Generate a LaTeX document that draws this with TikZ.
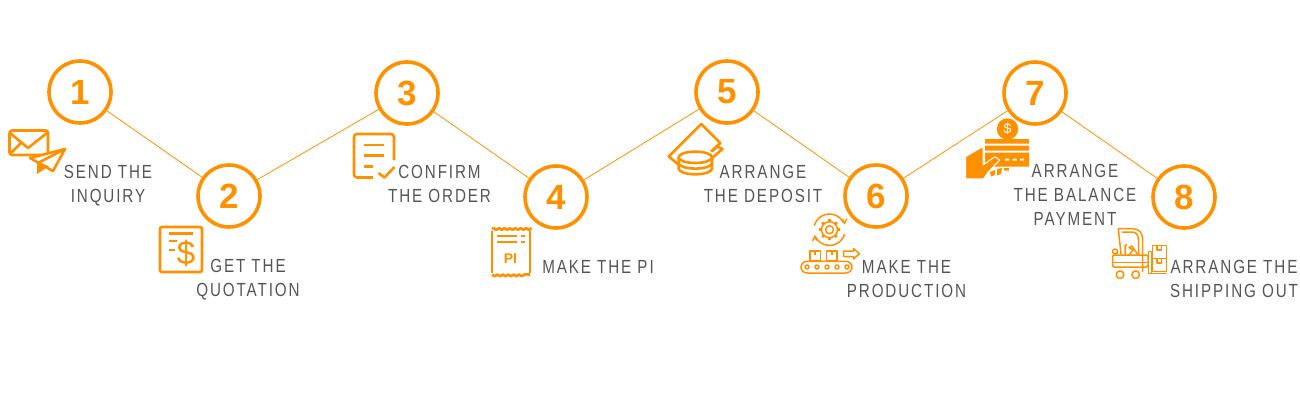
\documentclass[tikz,border=0pt]{standalone}
\usepackage{fontspec}
\setmainfont{Liberation Sans}[FakeStretch=.8,LetterSpace=10]
\newfontfamily\numfont{Liberation Sans}
\usetikzlibrary{decorations.pathmorphing}
\definecolor{stepcolor}{HTML}{FF9100}
\definecolor{labelcolor}{HTML}{555555}

\begin{document}
\begin{tikzpicture}[x=1pt,y=-1pt,
		stepnum/.style={circle,draw=stepcolor,line width=3.6pt,minimum size=62pt,inner sep=0pt,text=stepcolor,font=\numfont\bfseries\fontsize{35}{35}\selectfont},
		steplabel/.style={align=center,text=labelcolor,inner sep=0pt,font=\fontsize{19}{24}\selectfont},
		link/.style={draw=stepcolor,line width=.8pt},
		iconline/.style={draw=stepcolor,line width=2.6pt,line join=round},
		iconthin/.style={draw=stepcolor,line width=1.5pt,line join=round},
		icontext/.style={inner sep=0pt,text=stepcolor,font=\numfont}]
	\useasboundingbox (0,0) rectangle (1300,400);
	% Numbered steps
	\node[stepnum] (n1) at (80,92) {1};
	\node[stepnum] (n2) at (229,196) {2};
	\node[stepnum] (n3) at (407,93) {3};
	\node[stepnum] (n4) at (556,197) {4};
	\node[stepnum] (n5) at (727,92) {5};
	\node[stepnum] (n6) at (876,196) {6};
	\node[stepnum] (n7) at (1035,93) {7};
	\node[stepnum] (n8) at (1184,197) {8};
	% Links
	\draw[link] (n1) -- (n2);
	\draw[link] (n2) -- (n3);
	\draw[link] (n3) -- (n4);
	\draw[link] (n4) -- (n5);
	\draw[link] (n5) -- (n6);
	\draw[link] (n6) -- (n7);
	\draw[link] (n7) -- (n8);
	% Labels
	\node[steplabel] (send) at (108,186) {SEND THE\\INQUIRY};
	\node[steplabel] (quote) at (248,280) {GET THE\\QUOTATION};
	\node[steplabel] (confirm) at (439.5,184) {CONFIRM\\THE ORDER};
	\node[steplabel] (makepi) at (598,267) {MAKE THE PI};
	\node[steplabel] (deposit) at (763,184) {ARRANGE\\THE DEPOSIT};
	\node[steplabel] (production) at (906.5,279) {MAKE THE\\PRODUCTION};
	\node[steplabel] (balance) at (1075,195) {ARRANGE\\THE BALANCE\\PAYMENT};
	\node[steplabel] (shipping) at (1234,279) {ARRANGE THE\\SHIPPING OUT};
	% Envelope and paper plane
	\draw[iconline,rounded corners=2.5pt] (9.5,130.5) rectangle (48,155);
	\draw[iconline] (10,133) -- (28,148) -- (47,133) (10,154) -- (22,142);
	\draw[iconline,fill=white] (65,149) -- (30,158) -- (53,171) -- cycle;
	\draw[iconline] (65,149) -- (38,163);
	\fill[stepcolor] (37,162) -- (37,174) -- (49,166) -- cycle;
	% Quotation sheet
	\draw[iconline,rounded corners=2pt] (160,227) rectangle (202,272);
	\draw[iconline] (169,233.5) -- (193,233.5) (169,241) -- (177,241) (169,250) -- (175,250);
	\node[icontext,font=\numfont\fontsize{33}{33}\selectfont] (dollarq) at (186,253) {\$};
	% Order sheet
	\draw[iconline,rounded corners=3pt] (394,160) -- (394,134) -- (354,134) -- (354,177.5) -- (373,177.5);
	\draw[iconline] (364,145) -- (384,145) (364,155.5) -- (384,155.5) (364,166.5) -- (373,166.5);
	\draw[iconline] (378.5,173) -- (384.5,177.5) -- (394.5,167);
	% Proforma invoice
	\draw[iconline] (492,231) -- (492,273) (530,231) -- (530,273);
	\draw[iconline,decorate,decoration={snake,amplitude=.9pt,segment length=5.4pt}] (492,229) -- (530,229) (492,274.5) -- (530,274.5);
	\draw[iconline] (497,236) -- (517,236) (521,236) -- (525,236) (497,242) -- (517,242) (521,242) -- (525,242);
	\node[icontext,font=\numfont\bfseries\fontsize{14}{14}\selectfont] (pitext) at (510.5,258.5) {PI};
	% Banknote and coins
	\draw[iconline,fill=white] (712,151.5) -- (717,146.5) -- (722.5,149) -- (712,158);
	\draw[iconline,fill=white] (679,165) -- (668.7,156.5) -- (701.3,124) -- (720.3,143) -- (711,151.5);
	\draw[iconline,fill=white] (678.6,157.3) -- (678.6,168.6) arc[start angle=180,end angle=0,x radius=16.7,y radius=5.7] -- (712,157.3);
	\draw[iconline,fill=white] (695.3,157.3) ellipse[x radius=16.7,y radius=5.7];
	\draw[iconline] (678.6,162.9) arc[start angle=180,end angle=0,x radius=16.7,y radius=5.7];
	% Gear and conveyor
	\draw[iconthin] (829.5,229.7) circle[radius=4] circle[radius=8];
	\foreach \gearangle in {0,45,...,315}
		\draw[stepcolor,line width=2.6pt] (829.5,229.7) ++(\gearangle:8) -- ++(\gearangle:2.4);
	\draw[iconthin] (829.5,229.7) ++(195:15.7) arc[start angle=195,end angle=332,radius=15.7];
	\draw[iconthin] (829.5,229.7) ++(15:15.7) arc[start angle=15,end angle=152,radius=15.7];
	\draw[iconthin] (842.5,219) -- (844.5,223.5) -- (847,218.5);
	\draw[iconthin] (816.5,240.5) -- (815,236) -- (812.5,241);
	\draw[iconthin,rounded corners=6pt] (801,261.3) rectangle (852,273);
	\foreach \wheelx in {807,817,827,837,847}
		\draw[iconthin] (\wheelx,267) circle[radius=2];
	\draw[iconthin] (810,261) rectangle (820.5,251) (815,251) -- (815,255);
	\draw[iconthin] (826.5,261) rectangle (837,251) (832,251) -- (832,255);
	\draw[iconthin] (843.5,251) -- (853.5,251) -- (853.5,248.5) -- (859.5,253.7) -- (853.5,259) -- (853.5,256.5) -- (843.5,256.5) -- cycle;
	% Card, coin and hand
	\fill[stepcolor] (1007.5,129) circle[radius=10.7];
	\node[icontext,text=white,font=\numfont\fontsize{14}{14}\selectfont] (dollarc) at (1007.5,129) {\$};
	\fill[stepcolor] (985,139) rectangle (1029,143.5) (985,145.7) rectangle (1029,150.7) (985,152.7) rectangle (1029,166.7);
	\fill[white] (1005,158.5) rectangle (1009,160.5) (1012.5,158.5) rectangle (1016.5,160.5) (1020,158.5) rectangle (1024,160.5);
	\draw[white,line width=1pt,fill=stepcolor,line join=round] (965.5,178.8) -- (965.5,156.7) -- (980.7,147.7) -- (983,147.7) -- (983,165) -- (995,156.7) -- (999.7,160) -- (988.5,171.7) -- (983.5,178.8) -- cycle;
	\fill[stepcolor] (990,172) -- (995,170) -- (995,175) -- (991,176.5) -- cycle (997,169) -- (1002,168) -- (1001,174) -- (997,175.5) -- cycle (1004,168) rectangle (1009,170.5);
	% Forklift
	\draw[iconthin] (1121,254) -- (1118.3,228.7) -- (1133,228.7) .. controls (1139,229) and (1142.5,233) .. (1142.5,238) -- (1142.5,272);
	\draw[iconthin] (1138.5,254) -- (1138.5,240) .. controls (1138.5,235) and (1136,232) .. (1132,232) -- (1122,232);
	\draw[iconthin,rounded corners=1.5pt] (1112.5,255) rectangle (1148,267);
	\draw[iconthin] (1112.5,262.7) -- (1148,262.7);
	\draw[iconthin] (1115,251.5) circle[radius=2.5];
	\draw[iconthin] (1125,255) -- (1125,246) -- (1127,244.5);
	\draw[iconthin] (1129,255) -- (1133,250) -- (1129,247.5) -- (1132,246) -- (1138,255);
	\draw[iconthin,fill=white] (1120,274.7) circle[radius=3.8];
	\draw[iconthin,fill=white] (1135.7,274.7) circle[radius=3.8];
	\draw[iconthin] (1148.3,251.3) rectangle (1151.7,273.7);
	\draw[iconthin] (1151.7,273.7) -- (1166.7,273.7);
	\draw[iconthin] (1152.3,245.3) rectangle (1166.5,258.7) (1152.3,258.7) rectangle (1166.5,271.5);
	\draw[iconthin] (1157,245.3) -- (1157,250) -- (1161.5,250) -- (1161.5,245.3) (1157,258.7) -- (1157,263) -- (1161.5,263) -- (1161.5,258.7);
\end{tikzpicture}
\end{document}
